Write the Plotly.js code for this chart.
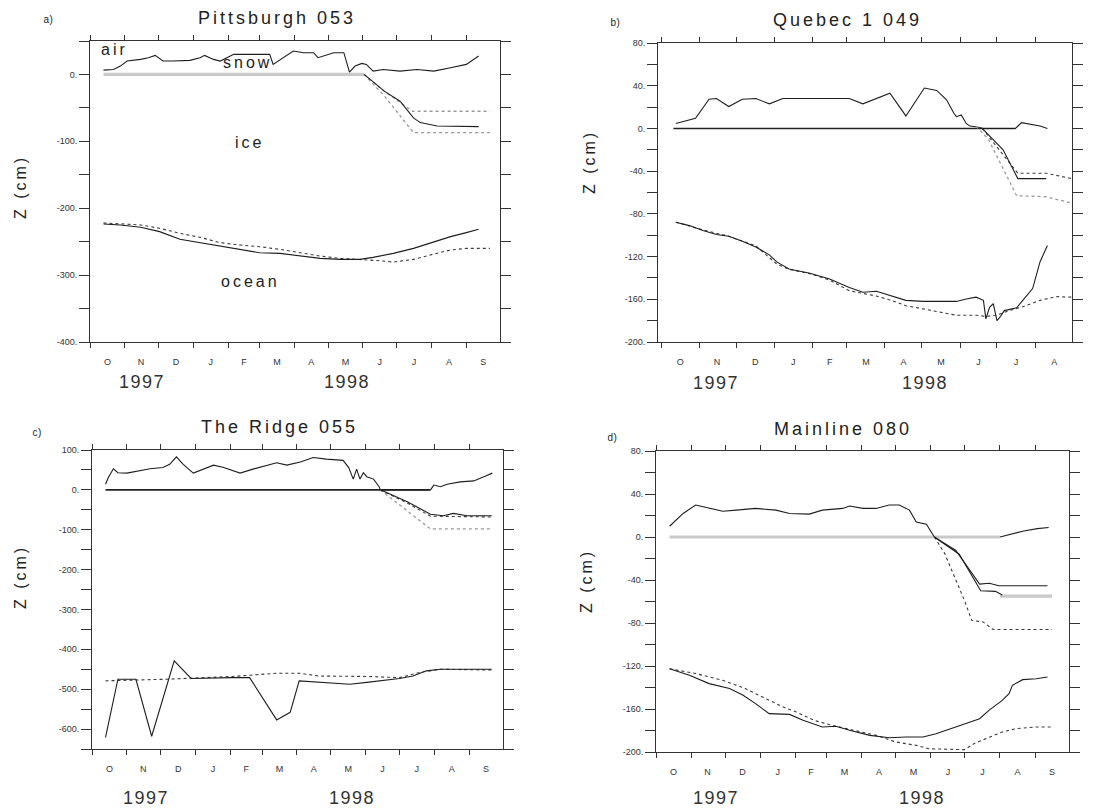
<!DOCTYPE html>
<html><head><meta charset="utf-8">
<script src="https://cdn.plot.ly/plotly-3.0.1.min.js"></script>
<style>body{margin:0;background:#fff} .annotation-text{letter-spacing:3px}</style>
</head><body>
<div id="chart" style="width:1112px;height:809px"></div>
<script>
// x values: days since 1 October 1997
const monthStarts = [0,31,61,92,123,151,182,212,243,273,304,335];
const monthMid = [15.5,45.5,76.5,107.5,137,166.5,197,227.5,258,288.5,319.5,350];
const monthLetters = ['O','N','D','J','F','M','A','M','J','J','A','S'];
const yearTick = [92];

// y ticks
const yTicksA = [-400,-350,-300,-250,-200,-150,-100,-50,0,50];
const yLabelsA = ['-400.','','-300.','','-200.','','-100.','','0.',''];
const yTicksB = [-200,-180,-160,-140,-120,-100,-80,-60,-40,-20,0,20,40,60,80];
const yLabelsB = ['-200.','','-160.','','-120.','','-80.','','-40.','','0.','','40.','','80.'];
const yTicksC = [-650,-600,-550,-500,-450,-400,-350,-300,-250,-200,-150,-100,-50,0,50,100];
const yLabelsC = ['','-600.','','-500.','','-400.','','-300.','','-200.','','-100.','','0.','','100.'];

// Panel a: Pittsburgh 053
const aSnowDay = [12,21,27,33,45,52,58,65,74,89,98,102,110,116,128,140,152,160,163,172,181,190,199,203,208,217,226,231,236,242,246,252,261,276,291,306,321,335,346];
const aSnowZ = [6.5,7.5,12.5,20,22.5,25,28.5,20,20,21,25,28.5,22.5,20,30,30,30,30,15,25,35,32.5,32.5,25,27.5,32.5,32.5,3.5,12.5,16.5,15,5,7.5,5,7.5,5,10,15,27.5];
const aIceDay = [12,244];
const aIceZ = [0,0];
const aMelt1Day = [244,262,287,356];
const aMelt1Z = [0,-25,-55,-55];
const aMelt2Day = [244,262,276,288,294,309,346];
const aMelt2Z = [0,-25,-40,-65,-72,-77,-78];
const aMelt3Day = [244,262,288,356];
const aMelt3Z = [0,-32,-87,-87];
const aBotObsDay = [12,27,45,62,80,98,116,134,151,169,187,205,223,240,252,270,288,306,321,335,346];
const aBotObsZ = [-223.5,-225,-228.5,-235,-246.5,-251.5,-257.5,-262.5,-266.5,-267.5,-271.5,-275,-276.5,-276.5,-273.5,-267.5,-260,-250,-242.5,-236.5,-231.5];
const aBotModDay = [12,45,62,80,98,116,134,151,169,187,205,223,240,258,270,288,306,321,335,356];
const aBotModZ = [-222,-225,-230,-237.5,-243.5,-251.5,-255,-257.5,-261.5,-266.5,-271.5,-275,-276.5,-278.5,-280.5,-276.5,-268.5,-262.5,-260,-260];

// Panel b: Quebec 1 049
const bSnowDay = [12,28,39,45,55,66,77,88,99,153,164,175,186,199,214,224,232,238,240,244,248,251,256,262,288,293,299,308,314];
const bSnowZ = [4.7,9.4,27.4,28,20.5,27.4,28,23,28,28,23,28,33,11.7,37.8,35.6,26.8,14.2,11,12.6,4.7,2.2,1.6,0,0,5.4,4.1,2.2,0];
const bZeroDay = [10,288];
const bZeroZ = [0,0];
const bMelt1Day = [261,270,290,313,334];
const bMelt1Z = [0,-13,-42,-42,-47];
const bMelt2Day = [261,268,278,290,313];
const bMelt2Z = [0,-8,-20,-47,-47];
const bMelt3Day = [256,266,289,313,334];
const bMelt3Z = [2,-10,-63,-64,-70];
const bBotObsDay = [12,23,34,45,55,66,77,88,94,104,121,137,153,164,175,186,199,213,240,248,256,262,264,267,270,273,275,279,289,294,302,308,314];
const bBotObsZ = [-87.8,-91,-95.6,-99.4,-101,-105.6,-111,-118.4,-125,-131.6,-135.6,-141,-149,-153.4,-152.5,-156.6,-161,-162,-162,-159.7,-158,-161,-178.4,-167.5,-164,-180,-177.5,-170.6,-168,-161,-150,-125,-109.7];
const bBotModDay = [12,34,55,77,94,104,121,137,153,175,186,199,213,226,240,256,264,272,283,294,308,321,334];
const bBotModZ = [-87.8,-95,-101,-110,-127,-132,-136,-142,-152,-157,-160.6,-166,-169,-172,-175,-175,-176,-175,-170.6,-167,-161,-157.5,-158];

// Panel c: The Ridge 055
const cSnowDay = [12,14.5,19,23,31,43,51.5,63,69,75,81,90,99,108,117,131.5,143,155,164,173,185,196.5,208,223,228,232,235,238,241,244,250,255,256,300.6,303.6,309.5,315.4,327,339,348,355.5];
const cSnowZ = [14,31,53,43,42,47.5,53,56,64,83,64,42,53,62,56,42,52,62,68,62,70,81,77,74,56,27,52,27,43,33,27,8,0,0,12,8,14,20,22.5,33,42];
const cZeroDay = [12,300];
const cZeroZ = [0,0];
const cMelt1Day = [256,280,300.6,312,321,333,355];
const cMelt1Z = [0,-30,-61,-65,-59,-65,-65];
const cMelt2Day = [256,280,300.6,355];
const cMelt2Z = [0,-33,-66,-68];
const cMelt3Day = [256,300.6,355];
const cMelt3Z = [0,-98,-98];
const cBotObsDay = [12,23,39,53,73,88,125,140,164,176,184,202,229,244,258,273,285,297,309,333,355];
const cBotObsZ = [-621,-475,-475,-618,-429,-473,-471,-471,-577,-558,-479,-483,-487.5,-483,-479,-473,-467,-454,-450,-450,-450];
const cBotModDay = [12,66,125,164,184,202,244,273,291,309,355];
const cBotModZ = [-479,-475,-468,-460,-460,-467,-468,-471,-458,-450,-452];

// Panel d: Mainline 080
const dSnowDay = [12,24,35,47,59,71,88,106,118,135.5,147,165,171,183,194.5,206,215,224,230,239,243,246,null,304,313,325,337,347];
const dSnowZ = [10,21.9,29.7,26.6,24,25,26.6,25,21.9,21.3,25,26.6,28.8,26.6,26.6,29.7,29.7,25,14,11.9,4.7,0,null,0,2.5,5.6,7.8,8.8];
const dIceDay = [12,304,null,304,350];
const dIceZ = [0,0,null,-55,-55];
const dMelt1Day = [246,265,286,294.5,303,346];
const dMelt1Z = [0,-12.5,-43.8,-43,-45.3,-45.3];
const dMelt2Day = [246,268,287,300,306];
const dMelt2Z = [0,-16,-50,-50.6,-54];
const dMelt3Day = [246,255,272.6,279,289,298,350];
const dMelt3Z = [0,-15,-59,-77.5,-79,-86,-86];
const dBotObsDay = [12,29.5,47,65,77,88,100,118,130,147,159,171,189,206,221,236,247.5,265,277,286,294.5,306,312,315,324,336,346];
const dBotObsZ = [-122.5,-128.7,-136.4,-141,-147.3,-155,-164.3,-165,-170.5,-176.7,-176,-179.8,-184.5,-186.7,-186,-186,-183,-176.7,-172,-169,-161,-152,-145.7,-138,-132.7,-131.8,-130.2];
const dBotModDay = [12,35,59,77,94,112,124,141,159,177,194.5,212,230,241,259,272.6,281.4,294.5,306,318,336,350];
const dBotModZ = [-122.5,-127,-133.3,-140,-148.8,-158,-162.8,-171,-176,-180,-184.5,-190.7,-193.8,-197,-197.8,-197.8,-192,-186,-181.4,-178.3,-176.7,-176.7];

const BLACK = {color:'#1e1e1e', width:1.1};
const ZERO = {color:'#222', width:1.6};
const GRAYTHICK = {color:'#c9c9c9', width:3.2};
const DOTDARK = {color:'#3a3a3a', width:1.1, dash:'dot'};
const DOTGRAY = {color:'#9a9a9a', width:1.3, dash:'dot'};

function tr(x, y, line, xa, ya) {
  return {x:x, y:y, mode:'lines', line:line, xaxis:xa, yaxis:ya, hoverinfo:'skip', showlegend:false, connectgaps:false};
}

const traces = [
  tr(aIceDay, aIceZ, GRAYTHICK, 'x', 'y'),
  tr(aSnowDay, aSnowZ, BLACK, 'x', 'y'),
  tr(aMelt1Day, aMelt1Z, DOTGRAY, 'x', 'y'),
  tr(aMelt3Day, aMelt3Z, DOTGRAY, 'x', 'y'),
  tr(aMelt2Day, aMelt2Z, BLACK, 'x', 'y'),
  tr(aBotModDay, aBotModZ, DOTDARK, 'x', 'y'),
  tr(aBotObsDay, aBotObsZ, BLACK, 'x', 'y'),

  tr(bZeroDay, bZeroZ, ZERO, 'x2', 'y2'),
  tr(bSnowDay, bSnowZ, BLACK, 'x2', 'y2'),
  tr(bMelt3Day, bMelt3Z, DOTGRAY, 'x2', 'y2'),
  tr(bMelt1Day, bMelt1Z, DOTDARK, 'x2', 'y2'),
  tr(bMelt2Day, bMelt2Z, BLACK, 'x2', 'y2'),
  tr(bBotModDay, bBotModZ, DOTDARK, 'x2', 'y2'),
  tr(bBotObsDay, bBotObsZ, BLACK, 'x2', 'y2'),

  tr(cZeroDay, cZeroZ, ZERO, 'x3', 'y3'),
  tr(cSnowDay, cSnowZ, BLACK, 'x3', 'y3'),
  tr(cMelt3Day, cMelt3Z, DOTGRAY, 'x3', 'y3'),
  tr(cMelt2Day, cMelt2Z, DOTDARK, 'x3', 'y3'),
  tr(cMelt1Day, cMelt1Z, BLACK, 'x3', 'y3'),
  tr(cBotModDay, cBotModZ, DOTDARK, 'x3', 'y3'),
  tr(cBotObsDay, cBotObsZ, BLACK, 'x3', 'y3'),

  tr(dIceDay, dIceZ, GRAYTHICK, 'x4', 'y4'),
  tr(dSnowDay, dSnowZ, BLACK, 'x4', 'y4'),
  tr(dMelt3Day, dMelt3Z, DOTDARK, 'x4', 'y4'),
  tr(dMelt2Day, dMelt2Z, BLACK, 'x4', 'y4'),
  tr(dMelt1Day, dMelt1Z, BLACK, 'x4', 'y4'),
  tr(dBotModDay, dBotModZ, DOTDARK, 'x4', 'y4'),
  tr(dBotObsDay, dBotObsZ, BLACK, 'x4', 'y4')
];

const TICKFONT = {family:'Liberation Sans, Arial, sans-serif', size:9, color:'#333'};
const AXCOL = '#333';

function xAxis(domain, range, anchor, nMonths) {
  return {
    domain:domain, range:range, anchor:anchor, showline:true, linecolor:AXCOL, linewidth:1, mirror:'ticks',
    showgrid:false, zeroline:false, fixedrange:true,
    tickmode:'array', tickvals:monthMid.slice(0,nMonths), ticktext:monthLetters.slice(0,nMonths),
    ticks:'outside', ticklen:11, tickcolor:'rgba(0,0,0,0)', tickfont:TICKFONT,
    minor:{tickmode:'array', tickvals:monthStarts, ticks:'outside', ticklen:5, tickcolor:AXCOL, tickwidth:1, showgrid:false}
  };
}
function janAxis(over, range, anchor) {
  return {
    overlaying:over, anchor:anchor, range:range, showline:false, mirror:'ticks', showgrid:false, zeroline:false,
    tickmode:'array', tickvals:yearTick, ticktext:[''], ticks:'outside', ticklen:10, tickcolor:AXCOL, tickwidth:1,
    showticklabels:false, fixedrange:true
  };
}
function yAxis(domain, range, anchor, tv, tt) {
  return {
    domain:domain, range:range, anchor:anchor, showline:true, linecolor:AXCOL, linewidth:1, mirror:'ticks',
    showgrid:false, zeroline:false, fixedrange:true,
    tickmode:'array', tickvals:tv, ticktext:tt, ticks:'outside', ticklen:10, tickcolor:AXCOL, tickwidth:1, tickfont:TICKFONT
  };
}

const W = 1112, H = 809;
const px = v => v / W, py = v => 1 - v / H;
const rA = [0,365], rB = [-2.5,334], rC = [0,365], rD = [0,365];

const TFONT = {family:'Liberation Sans, Arial, sans-serif', size:18, color:'#222'};
const LFONT = {family:'Liberation Sans, Arial, sans-serif', size:16, color:'#222'};
const SFONT = {family:'Liberation Sans, Arial, sans-serif', size:10, color:'#222'};
const YFONT = {family:'Liberation Sans, Arial, sans-serif', size:18, color:'#333'};

function pa(text, x, y, font, extra) {
  return Object.assign({text:text, xref:'paper', yref:'paper', x:px(x), y:py(y), xanchor:'center', yanchor:'middle', showarrow:false, font:font}, extra || {});
}
function da(text, xa, ya, x, y, font) {
  return {text:text, xref:xa, yref:ya, x:x, y:y, xanchor:'center', yanchor:'middle', showarrow:false, font:font};
}
function yr(text, xa, x, y) {
  return {text:text, xref:xa, yref:'paper', x:x, y:py(y), xanchor:'center', yanchor:'middle', showarrow:false, font:YFONT};
}

const annotations = [
  pa('Pittsburgh 053', 277, 18, TFONT),
  pa('Quebec 1 049', 847, 20, TFONT),
  pa('The Ridge 055', 279, 427, TFONT),
  pa('Mainline 080', 843, 429, TFONT),
  pa('a)', 48, 19, SFONT), pa('b)', 615, 23, SFONT), pa('c)', 37, 432, SFONT), pa('d)', 612, 437, SFONT),
  pa('Z (cm)', 20, 187, LFONT, {textangle:-90}),
  pa('Z (cm)', 589, 162, LFONT, {textangle:-90}),
  pa('Z (cm)', 20, 577, LFONT, {textangle:-90}),
  pa('Z (cm)', 586, 581, LFONT, {textangle:-90}),
  yr('1997','x',46,382), yr('1998','x',229,382),
  yr('1997','x2',44.6,383), yr('1998','x2',214.5,383),
  yr('1997','x3',48,798), yr('1998','x3',231,798),
  yr('1997','x4',53,798), yr('1998','x4',235,798),
  da('air','x','y',21.4,38,LFONT),
  da('snow','x','y',140,18,LFONT),
  da('ice','x','y',141.6,-102,LFONT),
  da('ocean','x','y',142.5,-310,LFONT)
];

const layout = {
  width:W, height:H, margin:{l:0,r:0,t:0,b:0}, paper_bgcolor:'#fff', plot_bgcolor:'#fff', showlegend:false,
  xaxis: xAxis([px(90),px(500)], rA, 'y', 12),
  yaxis: yAxis([py(342),py(41)], [-400,50], 'x', yTicksA, yLabelsA),
  xaxis2: xAxis([px(658),px(1072)], rB, 'y2', 11),
  yaxis2: yAxis([py(342),py(43)], [-200,80], 'x2', yTicksB, yLabelsB),
  xaxis3: xAxis([px(92),px(503)], rC, 'y3', 12),
  yaxis3: yAxis([py(749),py(450)], [-650,100], 'x3', yTicksC, yLabelsC),
  xaxis4: xAxis([px(656),px(1069)], rD, 'y4', 12),
  yaxis4: yAxis([py(752),py(451)], [-200,80], 'x4', yTicksB, yLabelsB),
  xaxis5: janAxis('x', rA, 'y'),
  xaxis6: janAxis('x2', rB, 'y2'),
  xaxis7: janAxis('x3', rC, 'y3'),
  xaxis8: janAxis('x4', rD, 'y4'),
  annotations: annotations
};

Plotly.newPlot('chart', traces, layout, {staticPlot:true, displayModeBar:false}).then(function () {
  document.querySelectorAll('.annotation-text').forEach(function (t) {
    const s = t.textContent;
    if (/^[a-d]\)$/.test(s)) t.style.letterSpacing = '0.5px';
    else if (/^199\d$/.test(s)) t.style.letterSpacing = '1.5px';
  });
});
</script>
</body></html>
